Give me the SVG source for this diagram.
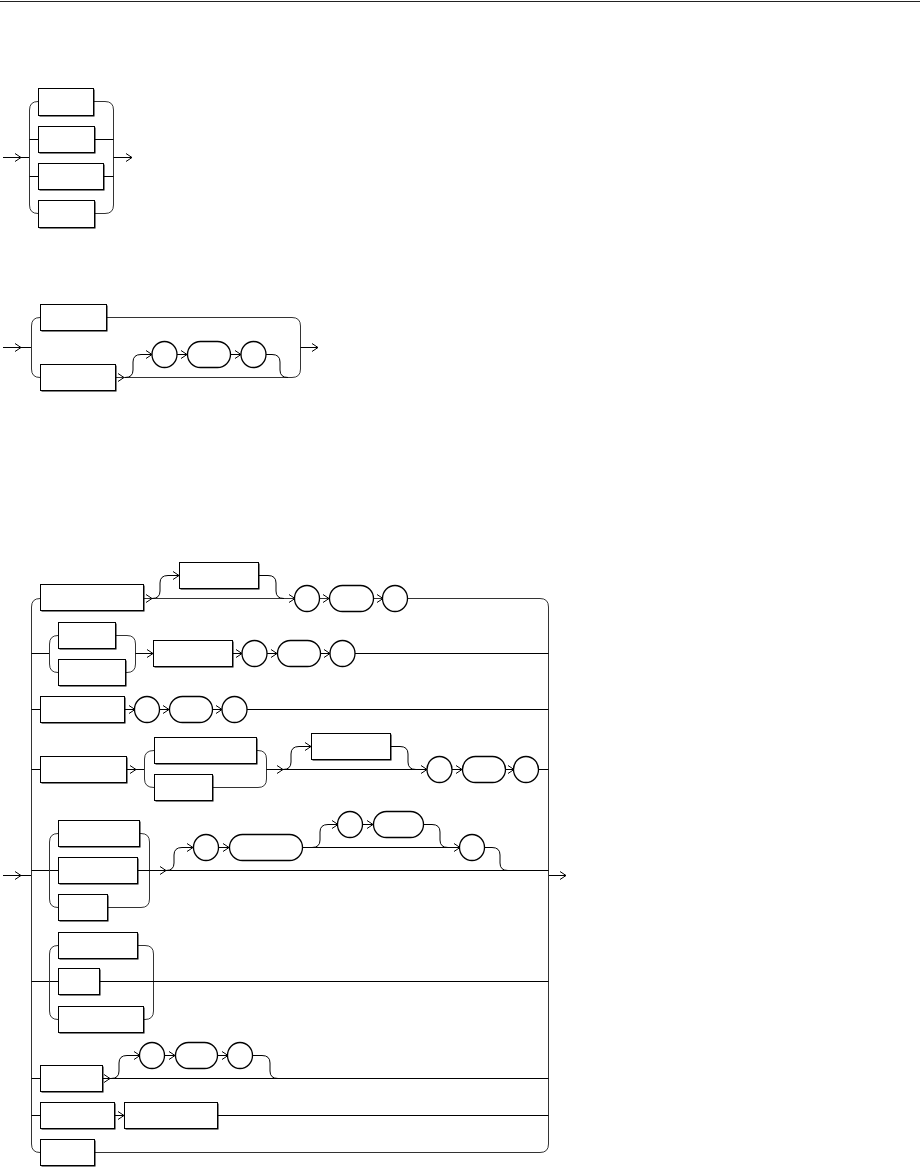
<svg xmlns="http://www.w3.org/2000/svg" xmlns:xlink="http://www.w3.org/1999/xlink" width="924" height="1167" viewBox="0 0 924 1167">
<style>
.ln{fill:none;stroke:#000;stroke-width:1}
.br{fill:none;stroke:#333;stroke-width:1}
.bx{fill:#fff;stroke:#000;stroke-width:1}
.sh{fill:#000;stroke:none}
.ov{fill:#fff;stroke:#000;stroke-width:1.3}
</style>
<defs>
<path id="ah" d="M-6,-4 L0,0 L-6,4" fill="none" stroke="#000" stroke-width="1"/>
</defs>
<rect width="924" height="1167" fill="#fff"/>
<line x1="0" y1="1.5" x2="920" y2="1.5" stroke="#222" stroke-width="1.2"/>
<g id="connectors">
<!-- D1 -->
<path class="ln" d="M3,157.5 H29.5"/><use xlink:href="#ah" x="21" y="157.5"/>
<path class="br" d="M38,101.5 Q29.5,101.5 29.5,110 V205 Q29.5,213.5 38,213.5"/>
<path class="ln" d="M29.5,139.5 H38 M29.5,176.5 H38"/>
<path class="br" d="M93,101.5 H105 Q113.5,101.5 113.5,110 V205 Q113.5,213.5 105,213.5 H94"/>
<path class="ln" d="M94,139.5 H113.5 M103,176.5 H113.5 M113.5,157.5 H132"/><use xlink:href="#ah" x="132" y="157.5"/>
<!-- D2 -->
<path class="ln" d="M3,347.5 H31.5"/><use xlink:href="#ah" x="21" y="347.5"/>
<path class="br" d="M40,317.5 Q31.5,317.5 31.5,326 V369 Q31.5,377.5 40,377.5"/>
<path class="br" d="M106,317.5 H292 Q300.5,317.5 300.5,326 V369 Q300.5,377.5 292,377.5 H115"/>
<use xlink:href="#ah" x="124" y="377.5"/>
<path class="ln" d="M125,377.5 Q133,377.5 133,370 V362 Q133,354.5 141,354.5 H152"/><use xlink:href="#ah" x="152" y="354.5"/>
<path class="ln" d="M177,354.5 H241"/><use xlink:href="#ah" x="187" y="354.5"/><use xlink:href="#ah" x="241" y="354.5"/>
<path class="ln" d="M266,354.5 H272 Q280,354.5 280,362 V370 Q280,377.5 288,377.5"/>
<path class="ln" d="M300.5,347.5 H318"/><use xlink:href="#ah" x="318" y="347.5"/>
<!-- D3 main -->
<path class="ln" d="M3,875.5 H31.5"/><use xlink:href="#ah" x="21" y="875.5"/>
<path class="ln" d="M548.5,875.5 H566"/><use xlink:href="#ah" x="566" y="875.5"/>
<path class="br" d="M40,598.5 Q31.5,598.5 31.5,607 V1144 Q31.5,1152.5 40,1152.5"/>
<path class="br" d="M143,598.5 H540 Q548.5,598.5 548.5,607 V1144 Q548.5,1152.5 540,1152.5 H94"/>
<!-- row1 -->
<use xlink:href="#ah" x="152" y="598.5"/>
<path class="ln" d="M152,598.5 Q160,598.5 160,591 V583 Q160,575.5 168,575.5 H179"/><use xlink:href="#ah" x="179" y="575.5"/>
<path class="ln" d="M258,575.5 H268 Q276,575.5 276,583 V591 Q276,598.5 284,598.5"/>
<use xlink:href="#ah" x="295" y="598.5"/><use xlink:href="#ah" x="329" y="598.5"/><use xlink:href="#ah" x="383" y="598.5"/>
<!-- row2 -->
<path class="ln" d="M31.5,653.5 H49.5"/>
<path class="br" d="M58,635.5 Q49.5,635.5 49.5,644 V664 Q49.5,672.5 58,672.5"/>
<path class="br" d="M115,635.5 H127 Q135.5,635.5 135.5,644 V664 Q135.5,672.5 127,672.5 H125"/>
<path class="ln" d="M135.5,653.5 H548.5"/>
<use xlink:href="#ah" x="153" y="653.5"/><use xlink:href="#ah" x="242" y="653.5"/><use xlink:href="#ah" x="277" y="653.5"/><use xlink:href="#ah" x="330" y="653.5"/>
<!-- row3 -->
<path class="ln" d="M31.5,709.5 H548.5"/>
<use xlink:href="#ah" x="135" y="709.5"/><use xlink:href="#ah" x="169" y="709.5"/><use xlink:href="#ah" x="222" y="709.5"/>
<!-- row4 -->
<path class="ln" d="M31.5,769.5 H144.5"/><use xlink:href="#ah" x="136" y="769.5"/>
<path class="br" d="M154,750.5 Q144.5,750.5 144.5,759 V779 Q144.5,787.5 154,787.5"/>
<path class="br" d="M256,750.5 H258 Q266.5,750.5 266.5,759 V779 Q266.5,787.5 258,787.5 H212"/>
<path class="ln" d="M266.5,769.5 H548.5"/><use xlink:href="#ah" x="283" y="769.5"/>
<path class="ln" d="M283,769.5 Q291,769.5 291,762 V754 Q291,746.5 299,746.5 H311"/><use xlink:href="#ah" x="311" y="746.5"/>
<path class="ln" d="M390,746.5 H400 Q408,746.5 408,754 V762 Q408,769.5 416,769.5"/>
<use xlink:href="#ah" x="427" y="769.5"/><use xlink:href="#ah" x="462" y="769.5"/><use xlink:href="#ah" x="514" y="769.5"/>
<!-- row5 -->
<path class="ln" d="M31.5,870.5 H58"/>
<path class="br" d="M58,833.5 Q49.5,833.5 49.5,842 V899 Q49.5,907.5 58,907.5"/>
<path class="br" d="M139,833.5 H141 Q149.5,833.5 149.5,842 V899 Q149.5,907.5 141,907.5 H107"/>
<path class="ln" d="M137,870.5 H548.5"/><use xlink:href="#ah" x="166" y="870.5"/>
<path class="ln" d="M166,870.5 Q174,870.5 174,863 V855 Q174,847.5 182,847.5 H193"/><use xlink:href="#ah" x="193" y="847.5"/>
<path class="ln" d="M219,847.5 H229"/><use xlink:href="#ah" x="229" y="847.5"/>
<path class="ln" d="M302,847.5 H460"/><use xlink:href="#ah" x="460" y="847.5"/>
<path class="ln" d="M312,847.5 Q320,847.5 320,840 V832 Q320,824.5 328,824.5 H338"/><use xlink:href="#ah" x="338" y="824.5"/>
<path class="ln" d="M362,824.5 H373"/><use xlink:href="#ah" x="373" y="824.5"/>
<path class="ln" d="M423,824.5 H432 Q440,824.5 440,832 V840 Q440,847.5 448,847.5"/>
<path class="ln" d="M484,847.5 H492 Q500,847.5 500,855 V863 Q500,870.5 508,870.5"/>
<!-- row6 -->
<path class="ln" d="M31.5,981.5 H58"/>
<path class="br" d="M58,945.5 Q49.5,945.5 49.5,954 V1011 Q49.5,1019.5 58,1019.5"/>
<path class="br" d="M137,945.5 H145 Q153.5,945.5 153.5,954 V1011 Q153.5,1019.5 145,1019.5 H143"/>
<path class="ln" d="M99,981.5 H548.5"/>
<!-- row7 -->
<path class="ln" d="M31.5,1078.5 H548.5"/><use xlink:href="#ah" x="110" y="1078.5"/>
<path class="ln" d="M111,1078.5 Q119,1078.5 119,1071 V1063 Q119,1055.5 127,1055.5 H140"/><use xlink:href="#ah" x="140" y="1055.5"/>
<path class="ln" d="M164,1055.5 H228"/><use xlink:href="#ah" x="175" y="1055.5"/><use xlink:href="#ah" x="228" y="1055.5"/>
<path class="ln" d="M252,1055.5 H262 Q270,1055.5 270,1063 V1071 Q270,1078.5 278,1078.5"/>
<!-- row8 -->
<path class="ln" d="M31.5,1115.5 H548.5"/><use xlink:href="#ah" x="124" y="1115.5"/>
</g>
<!-- Diagram 1 nodes -->
<g id="d1n1"><rect class="sh" x="39.5" y="89.5" width="55" height="27"/><rect class="bx" x="38.5" y="88.5" width="55" height="27"/></g>
<g id="d1n2"><rect class="sh" x="39.5" y="127.5" width="56" height="26"/><rect class="bx" x="38.5" y="126.5" width="56" height="26"/></g>
<g id="d1n3"><rect class="sh" x="39.5" y="164.5" width="65" height="26"/><rect class="bx" x="38.5" y="163.5" width="65" height="26"/></g>
<g id="d1n4"><rect class="sh" x="39.5" y="201.5" width="56" height="27"/><rect class="bx" x="38.5" y="200.5" width="56" height="27"/></g>
<!-- Diagram 2 nodes -->
<g id="d2n1"><rect class="sh" x="41.5" y="305.5" width="66" height="26"/><rect class="bx" x="40.5" y="304.5" width="66" height="26"/></g>
<g id="d2n2"><rect class="sh" x="41.5" y="365.5" width="75" height="26"/><rect class="bx" x="40.5" y="364.5" width="75" height="26"/></g>
<g id="d2n3"><ellipse class="ov" cx="164.5" cy="354.5" rx="12.5" ry="13"/></g>
<g id="d2n4"><rect class="ov" x="187.5" y="341.5" width="43" height="26" rx="13"/></g>
<g id="d2n5"><ellipse class="ov" cx="253.5" cy="354.5" rx="12.5" ry="13"/></g>
<!-- Diagram 3 row1 -->
<g id="r1n1"><rect class="sh" x="41.5" y="585.5" width="103" height="26"/><rect class="bx" x="40.5" y="584.5" width="103" height="26"/></g>
<g id="r1n2"><rect class="sh" x="180.5" y="563.5" width="79" height="26"/><rect class="bx" x="179.5" y="562.5" width="79" height="26"/></g>
<g id="r1n3"><ellipse class="ov" cx="307" cy="598.5" rx="12.5" ry="13"/></g>
<g id="r1n4"><rect class="ov" x="329.5" y="585.5" width="44" height="26" rx="13"/></g>
<g id="r1n5"><ellipse class="ov" cx="395" cy="598.5" rx="12.5" ry="13"/></g>
<!-- row2 -->
<g id="r2n1"><rect class="sh" x="59.5" y="623.5" width="57" height="26"/><rect class="bx" x="58.5" y="622.5" width="57" height="26"/></g>
<g id="r2n2"><rect class="sh" x="59.5" y="660.5" width="67" height="26"/><rect class="bx" x="58.5" y="659.5" width="67" height="26"/></g>
<g id="r2n3"><rect class="sh" x="154.5" y="641.5" width="79" height="26"/><rect class="bx" x="153.5" y="640.5" width="79" height="26"/></g>
<g id="r2n4"><ellipse class="ov" cx="254.5" cy="653.5" rx="12.5" ry="13"/></g>
<g id="r2n5"><rect class="ov" x="277.5" y="640.5" width="43" height="26" rx="13"/></g>
<g id="r2n6"><ellipse class="ov" cx="342.5" cy="653.5" rx="12.5" ry="13"/></g>
<!-- row3 -->
<g id="r3n1"><rect class="sh" x="41.5" y="697.5" width="84" height="26"/><rect class="bx" x="40.5" y="696.5" width="84" height="26"/></g>
<g id="r3n2"><ellipse class="ov" cx="147" cy="709.5" rx="12.5" ry="13"/></g>
<g id="r3n3"><rect class="ov" x="169.5" y="696.5" width="43" height="26" rx="13"/></g>
<g id="r3n4"><ellipse class="ov" cx="234.5" cy="709.5" rx="12.5" ry="13"/></g>
<!-- row4 -->
<g id="r4n1"><rect class="sh" x="41.5" y="757.5" width="86" height="26"/><rect class="bx" x="40.5" y="756.5" width="86" height="26"/></g>
<g id="r4n2"><rect class="sh" x="155.5" y="738.5" width="102" height="26"/><rect class="bx" x="154.5" y="737.5" width="102" height="26"/></g>
<g id="r4n3"><rect class="sh" x="155.5" y="775.5" width="58" height="26"/><rect class="bx" x="154.5" y="774.5" width="58" height="26"/></g>
<g id="r4n4"><rect class="sh" x="312.5" y="734.5" width="79" height="26"/><rect class="bx" x="311.5" y="733.5" width="79" height="26"/></g>
<g id="r4n5"><ellipse class="ov" cx="439.5" cy="769.5" rx="12.5" ry="13"/></g>
<g id="r4n6"><rect class="ov" x="462.5" y="756.5" width="43" height="26" rx="13"/></g>
<g id="r4n7"><ellipse class="ov" cx="526" cy="769.5" rx="12.5" ry="13"/></g>
<!-- row5 -->
<g id="r5n1"><rect class="sh" x="59.5" y="821.5" width="81" height="26"/><rect class="bx" x="58.5" y="820.5" width="81" height="26"/></g>
<g id="r5n2"><rect class="sh" x="59.5" y="858.5" width="79" height="26"/><rect class="bx" x="58.5" y="857.5" width="79" height="26"/></g>
<g id="r5n3"><rect class="sh" x="59.5" y="895.5" width="49" height="26"/><rect class="bx" x="58.5" y="894.5" width="49" height="26"/></g>
<g id="r5n4"><ellipse class="ov" cx="206" cy="847.5" rx="12.5" ry="13"/></g>
<g id="r5n5"><rect class="ov" x="229.5" y="834.5" width="73" height="26" rx="13"/></g>
<g id="r5n6"><ellipse class="ov" cx="350" cy="824.5" rx="12.5" ry="13"/></g>
<g id="r5n7"><rect class="ov" x="373.5" y="811.5" width="50" height="26" rx="13"/></g>
<g id="r5n8"><ellipse class="ov" cx="472" cy="847.5" rx="12.5" ry="13"/></g>
<!-- row6 -->
<g id="r6n1"><rect class="sh" x="59.5" y="933.5" width="79" height="26"/><rect class="bx" x="58.5" y="932.5" width="79" height="26"/></g>
<g id="r6n2"><rect class="sh" x="59.5" y="969.5" width="41" height="26"/><rect class="bx" x="58.5" y="968.5" width="41" height="26"/></g>
<g id="r6n3"><rect class="sh" x="59.5" y="1007.5" width="85" height="26"/><rect class="bx" x="58.5" y="1006.5" width="85" height="26"/></g>
<!-- row7 -->
<g id="r7n1"><rect class="sh" x="41.5" y="1066.5" width="62" height="26"/><rect class="bx" x="40.5" y="1065.5" width="62" height="26"/></g>
<g id="r7n2"><ellipse class="ov" cx="152" cy="1055.5" rx="12.5" ry="13"/></g>
<g id="r7n3"><rect class="ov" x="175.5" y="1042.5" width="42" height="26" rx="13"/></g>
<g id="r7n4"><ellipse class="ov" cx="240" cy="1055.5" rx="12.5" ry="13"/></g>
<!-- row8 -->
<g id="r8n1"><rect class="sh" x="41.5" y="1103.5" width="74" height="26"/><rect class="bx" x="40.5" y="1102.5" width="74" height="26"/></g>
<g id="r8n2"><rect class="sh" x="125.5" y="1103.5" width="93" height="26"/><rect class="bx" x="124.5" y="1102.5" width="93" height="26"/></g>
<!-- row9 -->
<g id="r9n1"><rect class="sh" x="41.5" y="1140.5" width="54" height="26"/><rect class="bx" x="40.5" y="1139.5" width="54" height="26"/></g>
</svg>
